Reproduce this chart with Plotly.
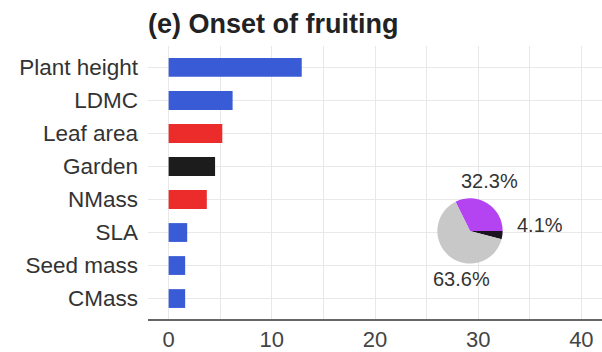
import math
import plotly.graph_objects as go

categories = ["Plant height", "LDMC", "Leaf area", "Garden", "NMass", "SLA", "Seed mass", "CMass"]
values = [12.9, 6.2, 5.2, 4.5, 3.7, 1.8, 1.6, 1.6]
bar_colors = ["#3a5bd6", "#3a5bd6", "#ec2b2b", "#1c1c1c", "#ec2b2b", "#3a5bd6", "#3a5bd6", "#3a5bd6"]

pie_labels = ["Shared", "Purple", "Gray"]
pie_values = [4.1, 32.3, 63.6]
pie_colors = ["#1c1320", "#b444f2", "#c8c8c8"]

x_ticks = [0, 10, 20, 30, 40]

FONT = "Liberation Sans, Arial"
L, T, W, H = 148, 46, 454, 276
cx, cy, r = 470, 233, 33

fig = go.Figure()
fig.add_trace(go.Bar(
    x=values, y=categories, orientation="h",
    marker=dict(color=bar_colors, line=dict(width=0)),
    width=0.57, showlegend=False, hoverinfo="skip",
))

fig.add_trace(go.Pie(
    labels=pie_labels, values=pie_values, sort=False,
    direction="counterclockwise", rotation=90,
    marker=dict(colors=pie_colors, line=dict(width=0)),
    textinfo="none",
    domain=dict(x=[(cx - r - L) / W, (cx + r - L) / W], y=[(T + H - cy - r) / H, (T + H - cy + r) / H]),
    showlegend=False, hoverinfo="skip",
))

# slice labels placed around the pie at each slice's mid-angle
total = sum(pie_values)
start = 0.0
for v in pie_values:
    span = 360.0 * v / total
    mid = math.radians(start + span / 2)
    start += span
    c, s = math.cos(mid), math.sin(mid)
    xa = "left" if c > 0.5 else ("right" if c < -0.5 else "center")
    ya = "bottom" if s > 0.5 else ("top" if s < -0.5 else "middle")
    off = 12 if ya == "middle" else 6
    px = cx + (r + off) * c
    py = cy - (r + off) * s
    if xa == "center":
        px += 8
    fig.add_annotation(
        x=(px - L) / W, y=(T + H - py) / H, xref="paper", yref="paper",
        text=f"{v:.1f}%", showarrow=False, xanchor=xa, yanchor=ya,
        font=dict(size=20, color="#333333", family=FONT),
    )

fig.update_layout(
    width=602, height=352,
    margin=dict(l=L, r=602 - L - W, t=T, b=352 - T - H),
    paper_bgcolor="white", plot_bgcolor="white",
    font=dict(family=FONT, color="#333333"),
    title=dict(text="<b>(e) Onset of fruiting</b>", x=L / 602, xanchor="left",
               y=1 - 24 / 352, yanchor="middle", font=dict(size=27, color="#222222")),
    xaxis=dict(range=[-2, 42], tickvals=x_ticks, ticks="", showgrid=True,
               gridcolor="#e8e8e8", gridwidth=1,
               minor=dict(dtick=5, showgrid=True, gridcolor="#e8e8e8", tick0=0),
               zeroline=False, showline=True, linecolor="#666666", linewidth=2,
               tickfont=dict(size=22, color="#444444")),
    yaxis=dict(categoryorder="array", categoryarray=categories,
               range=[7.62, -0.65], showgrid=True, gridcolor="#e8e8e8",
               ticks="", ticklabelstandoff=9, tickfont=dict(size=22.5, color="#333333"),
               zeroline=False, showline=False),
)

fig.write_html("out.html")
